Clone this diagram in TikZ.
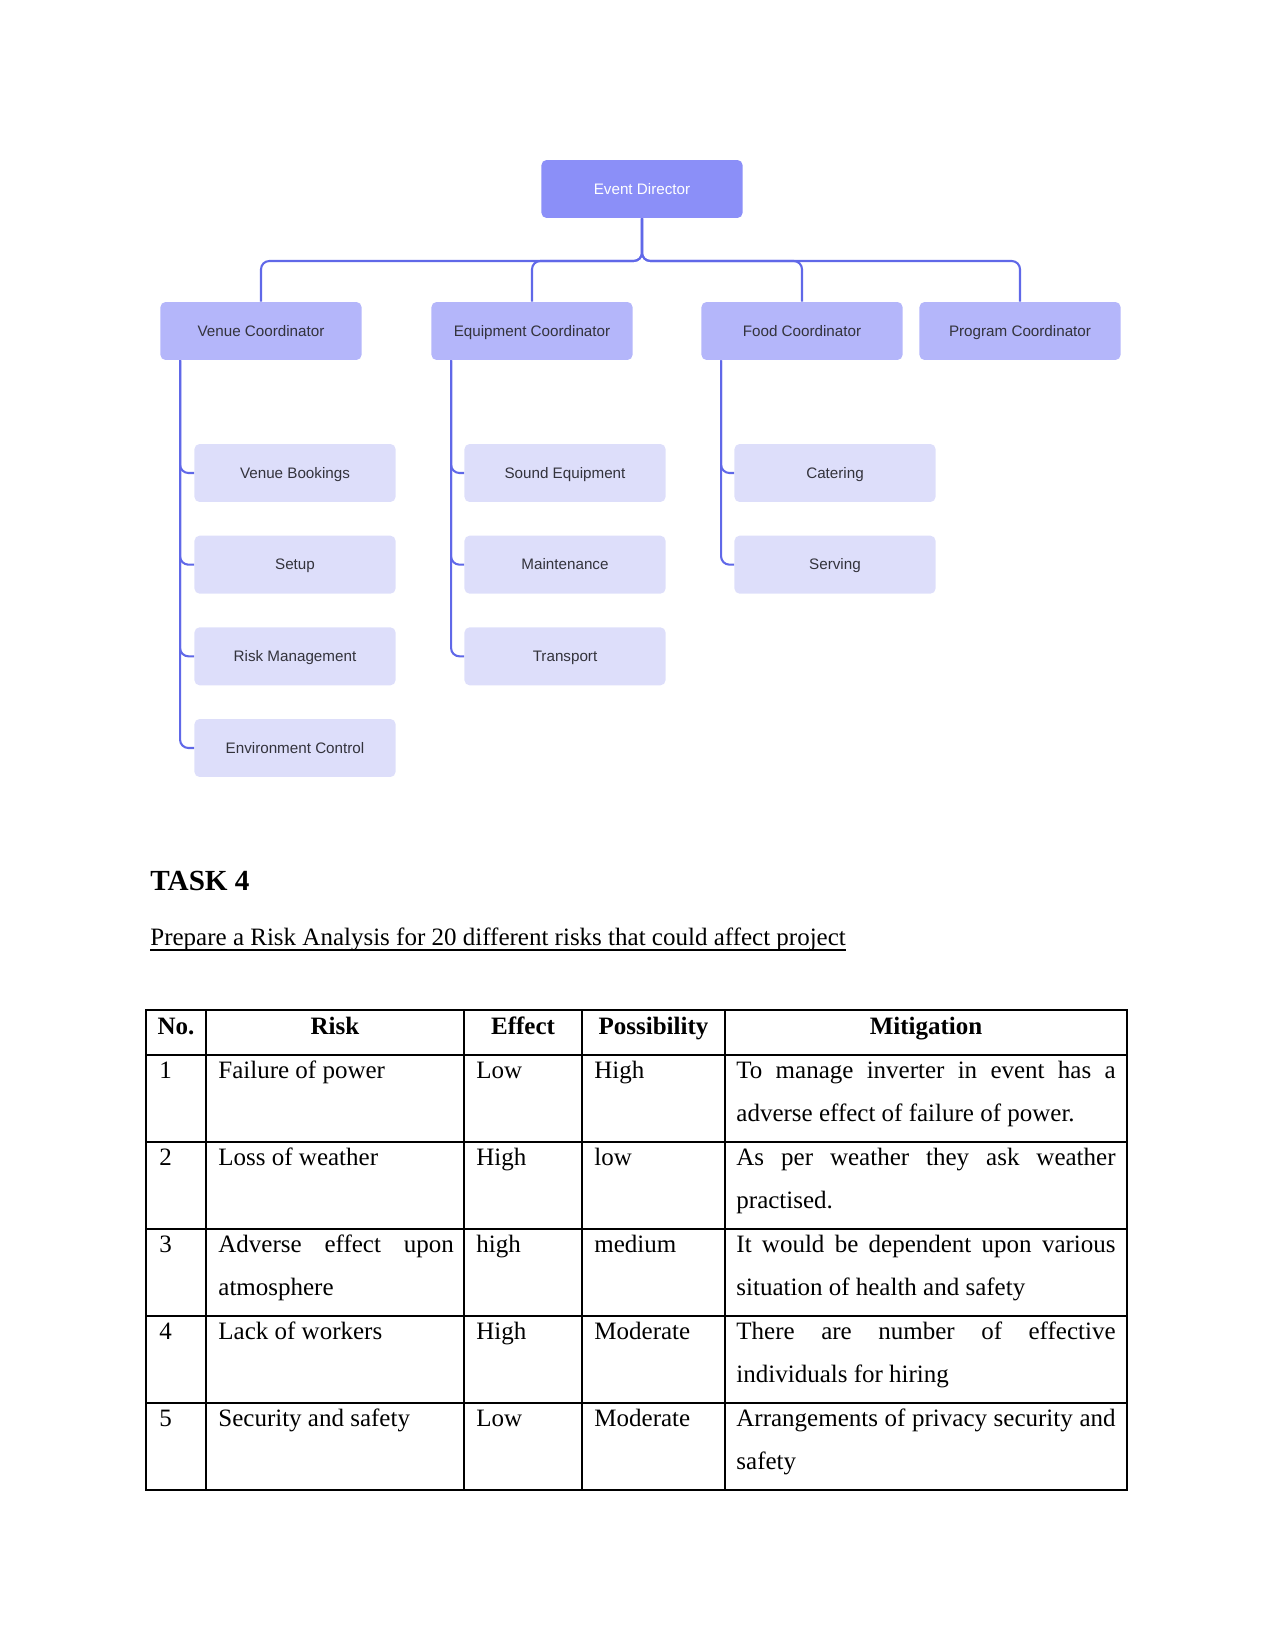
\documentclass[tikz,border=0pt]{standalone}
\usepackage{fontspec}
\setmainfont{Liberation Serif}
\newfontfamily\chartfont{Liberation Sans}
\usetikzlibrary{positioning}

\definecolor{topfill}{RGB}{139,143,248}
\definecolor{midfill}{RGB}{180,182,250}
\definecolor{lowfill}{RGB}{221,222,250}
\definecolor{linkblue}{RGB}{96,104,232}
\definecolor{charttext}{RGB}{51,51,60}

\tolerance=10000
\hyphenpenalty=10000

\begin{document}
\begin{tikzpicture}[
        x = 0.48pt, y = -0.48pt,
        node distance = 44pt, on grid,
        orgbox/.style = {rectangle, rounded corners = 2.4pt, minimum width = 96.5pt,
            minimum height = 27.8pt, inner sep = 0pt, text = charttext,
            text height = 0.72em, text depth = 0.21em,
            font = \chartfont\fontsize{7.3}{9}\selectfont},
        director/.style = {orgbox, fill = topfill, text = white},
        coordinator/.style = {orgbox, fill = midfill},
        duty/.style = {orgbox, fill = lowfill},
        link/.style = {draw = linkblue, line width = 1pt, rounded corners = 4pt},
        rule/.style = {line width = 0.6pt},
        cell/.style = {anchor = base west, inner sep = 0pt, font = \fontsize{12}{20.7}\selectfont},
        head/.style = {anchor = base, inner sep = 0pt, font = \bfseries\fontsize{12}{20.7}\selectfont}
    ]
      \useasboundingbox (0,0) rectangle (1275,1650);

      % org chart
      \node[director] (dir) at (642,189) {Event Director};
      \node[coordinator] (venue) at (261,331) {Venue Coordinator};
      \node[coordinator] (equip) at (532,331) {Equipment Coordinator};
      \node[coordinator] (food) at (802,331) {Food Coordinator};
      \node[coordinator] (prog) at (1020,331) {Program Coordinator};
      \coordinate (bus) at (642,261);

      \node[duty] (book) at (295,473) {Venue Bookings};
      \node[duty, below = of book] (setup) {Setup};
      \node[duty, below = of setup] (risk) {Risk Management};
      \node[duty, below = of risk] (envctl) {Environment Control};

      \node[duty] (sound) at (565,473) {Sound Equipment};
      \node[duty, below = of sound] (maint) {Maintenance};
      \node[duty, below = of maint] (trans) {Transport};

      \node[duty] (cater) at (835,473) {Catering};
      \node[duty, below = of cater] (serve) {Serving};

      \foreach \c in {venue, equip, food, prog}
        \draw[link] (dir.south) -- (bus) -| (\c.north);
      \foreach \d in {book, setup, risk, envctl}
        \draw[link] ([xshift = 9.6pt]venue.south west) |- (\d.west);
      \foreach \d in {sound, maint, trans}
        \draw[link] ([xshift = 9.6pt]equip.south west) |- (\d.west);
      \foreach \d in {cater, serve}
        \draw[link] ([xshift = 9.6pt]food.south west) |- (\d.west);

      % task heading
      \node[anchor = base west, inner sep = 0pt, font = \bfseries\fontsize{14}{16}\selectfont]
        (task) at (150,890) {TASK 4};
      \node[anchor = base west, inner sep = 0pt, font = \fontsize{12}{14}\selectfont]
        (brief) at (150,945) {Prepare a Risk Analysis for 20 different risks that could affect project};
      \draw[line width = 0.6pt] ([yshift = -2.4pt]brief.base west) -- ([yshift = -2.4pt]brief.base east);

      % risk table
      \draw[rule] (146,1010) rectangle (1127,1490);
      \foreach \y in {1055,1142,1229,1316,1403}
        \draw[rule] (146,\y) -- (1127,\y);
      \foreach \x in {206,464,582,725}
        \draw[rule] (\x,1010) -- (\x,1490);

      \node[head] (hno) at (176,1034) {No.};
      \node[head] (hrisk) at (335,1034) {Risk};
      \node[head] (heffect) at (523,1034) {Effect};
      \node[head] (hposs) at (653.5,1034) {Possibility};
      \node[head] (hmit) at (926,1034) {Mitigation};

      \foreach \n/\rsk/\eff/\poss/\mit [evaluate = \n as \ty using 991+87*\n] in {
          1/{Failure of power}/Low/High/{To manage inverter in event has a\linebreak adverse effect of failure of power.},
          2/{Loss of weather}/High/low/{As per weather they ask weather\linebreak practised.},
          3/{Adverse effect upon\linebreak atmosphere}/high/medium/{It would be dependent upon various\linebreak situation of health and safety},
          4/{Lack of workers}/High/Moderate/{There are number of effective\linebreak individuals for hiring},
          5/{Security and safety}/Low/Moderate/{Arrangements of privacy security and\linebreak safety}}
      {
        \node[cell] (no\n) at (159,\ty) {\n};
        \node[cell, text width = 113pt, align = justify] (risk\n) at (218,\ty) {\rsk};
        \node[cell] (effect\n) at (476,\ty) {\eff};
        \node[cell] (poss\n) at (594,\ty) {\poss};
        \node[cell, text width = 182pt, align = justify] (mit\n) at (736,\ty) {\mit};
      }
\end{tikzpicture}
\end{document}
